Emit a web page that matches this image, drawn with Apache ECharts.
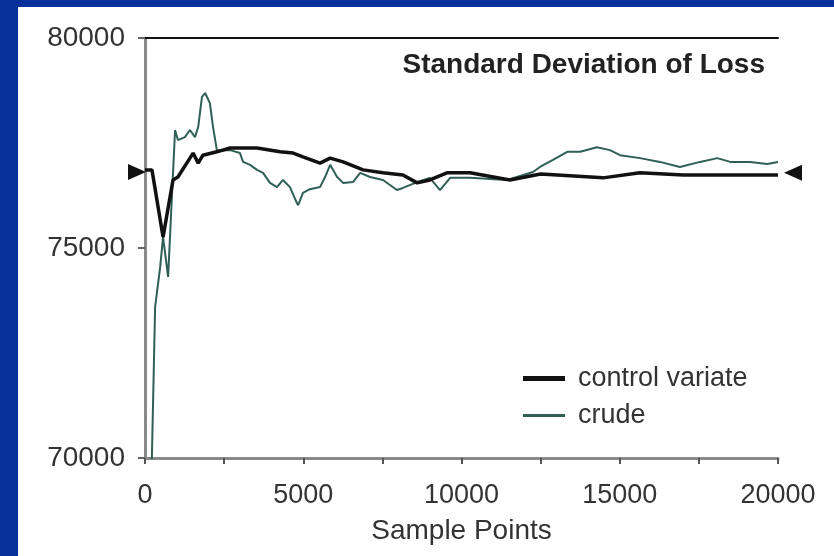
<!DOCTYPE html>
<html>
<head>
<meta charset="utf-8">
<script src="https://cdn.jsdelivr.net/npm/echarts@6/dist/echarts.min.js"></script>
<style>
html,body{margin:0;padding:0;background:#06309a;}
#c{width:834px;height:556px;}
</style>
</head>
<body>
<div id="c"></div>
<script>
// ---- data ----
var titleText = 'Standard Deviation of Loss';
var xName = 'Sample Points';
var seriesNames = ['control variate', 'crude'];
var xTickLabels = ['0', '5000', '10000', '15000', '20000'];
var yTickLabels = ['70000', '75000', '80000'];

var controlX = [0,220,570,885,1040,1420,1520,1680,1830,2270,2690,3000,3540,4270,4680,4990,5530,5850,6260,6890,7520,8150,8600,9000,9540,10270,11530,12500,14470,15640,17000,18500,20000];
var controlY = [76860,76860,75260,76620,76690,77140,77260,77020,77210,77290,77380,77380,77380,77290,77260,77170,77020,77140,77050,76860,76790,76740,76550,76620,76790,76790,76620,76760,76670,76790,76740,76740,76740];

var crudeX = [160,320,480,570,730,950,1040,1260,1420,1580,1680,1800,1900,2050,2150,2270,2690,3000,3100,3320,3540,3730,3950,4170,4360,4580,4800,4840,4990,5210,5530,5690,5850,6070,6260,6570,6800,7110,7520,7960,8150,8600,9000,9320,9640,10270,11440,12260,12480,12890,13340,13750,14280,14690,15010,15640,16270,16900,17540,18080,18490,19120,19660,20000];
var crudeY = [68000,73600,74550,75260,74310,77810,77570,77640,77810,77640,77880,78600,78690,78450,77880,77330,77330,77260,77050,76980,76860,76790,76550,76450,76620,76450,76070,76020,76310,76400,76450,76690,76980,76690,76550,76570,76790,76690,76620,76380,76430,76570,76670,76380,76670,76670,76620,76810,76930,77100,77290,77290,77400,77330,77210,77140,77050,76930,77050,77140,77050,77050,77000,77050];

var markerX = [0, 20000];
var markerY = [76810, 76790];

function zip(a, b) { return a.map(function (v, i) { return [v, b[i]]; }); }

var FONT = '"Liberation Sans", Arial, sans-serif';
var CONTROL_COLOR = '#111111';
var CRUDE_COLOR = '#2f5f55';
var chart = echarts.init(document.getElementById('c'), null, {renderer: 'canvas'});
chart.setOption({
  animation: false,
  backgroundColor: 'transparent',
  graphic: [{
    type: 'rect', z: -100, silent: true,
    shape: {x: 18, y: 7, width: 816, height: 549},
    style: {fill: '#ffffff'}
  }],
  title: {
    text: titleText, right: 69, top: 51, padding: 0,
    textStyle: {fontFamily: FONT, fontSize: 28, fontWeight: 'bold', color: '#222', lineHeight: 28}
  },
  legend: {
    orient: 'vertical', left: 523, top: 365, padding: 0,
    itemWidth: 42, itemHeight: 14, itemGap: 10,
    data: [
      {name: seriesNames[0], icon: 'path://M0,0H42V5H0Z', itemStyle: {color: CONTROL_COLOR}},
      {name: seriesNames[1], icon: 'path://M0,0H42V3H0Z', itemStyle: {color: CRUDE_COLOR}}
    ],
    textStyle: {fontFamily: FONT, fontSize: 27, color: '#333', lineHeight: 27, padding: [0,0,0,8]}
  },
  grid: {left: 145, right: 56, top: 38, bottom: 98, containLabel: false},
  xAxis: [{
    type: 'value', min: 0, max: 20000, interval: 2500,
    name: xName, nameLocation: 'middle', nameGap: 59,
    nameTextStyle: {fontFamily: FONT, fontSize: 28, color: '#333'},
    axisLine: {lineStyle: {color: '#8a8a8a', width: 3}},
    axisTick: {inside: false, length: 6, lineStyle: {color: '#555', width: 2}},
    axisLabel: {
      margin: 24, fontFamily: FONT, fontSize: 27, color: '#333', lineHeight: 27,
      formatter: function (v) { var i = xTickLabels.indexOf(String(v)); return i >= 0 ? xTickLabels[i] : ''; }
    },
    splitLine: {show: false}
  }, {
    type: 'value', position: 'top', min: 0, max: 20000,
    axisLine: {show: true, lineStyle: {color: '#111', width: 2}},
    axisTick: {show: false}, axisLabel: {show: false}, splitLine: {show: false}
  }],
  yAxis: [{
    type: 'value', min: 70000, max: 80000, interval: 5000,
    axisLine: {show: true, lineStyle: {color: '#8a8a8a', width: 3}},
    axisTick: {show: true, length: 7, lineStyle: {color: '#666', width: 2}},
    axisLabel: {
      margin: 20, fontFamily: FONT, fontSize: 28, color: '#333',
      formatter: function (v) { var i = yTickLabels.indexOf(String(v)); return i >= 0 ? yTickLabels[i] : ''; }
    },
    splitLine: {show: false}
  }, {
    type: 'value', position: 'right', min: 70000, max: 80000,
    axisLine: {show: true, lineStyle: {color: '#8a8a8a', width: 2}},
    axisTick: {show: false}, axisLabel: {show: false}, splitLine: {show: false}
  }],
  series: [{
    name: seriesNames[1], type: 'line', symbol: 'none', clip: true,
    data: zip(crudeX, crudeY),
    lineStyle: {color: CRUDE_COLOR, width: 2},
    itemStyle: {color: CRUDE_COLOR}, z: 2
  }, {
    name: seriesNames[0], type: 'line', symbol: 'none', clip: true,
    data: zip(controlX, controlY),
    lineStyle: {color: CONTROL_COLOR, width: 3.5},
    itemStyle: {color: CONTROL_COLOR}, z: 3
  }, {
    name: 'markers', type: 'scatter', clip: false, silent: true,
    data: [
      {value: [markerX[0], markerY[0]], symbolRotate: -90, symbolOffset: [-8, 0]},
      {value: [markerX[1], markerY[1]], symbolRotate: 90, symbolOffset: [15, 0]}
    ],
    symbol: 'triangle', symbolSize: [16, 18],
    itemStyle: {color: '#111', opacity: 1}, z: 4
  }]
});
</script>
</body>
</html>
